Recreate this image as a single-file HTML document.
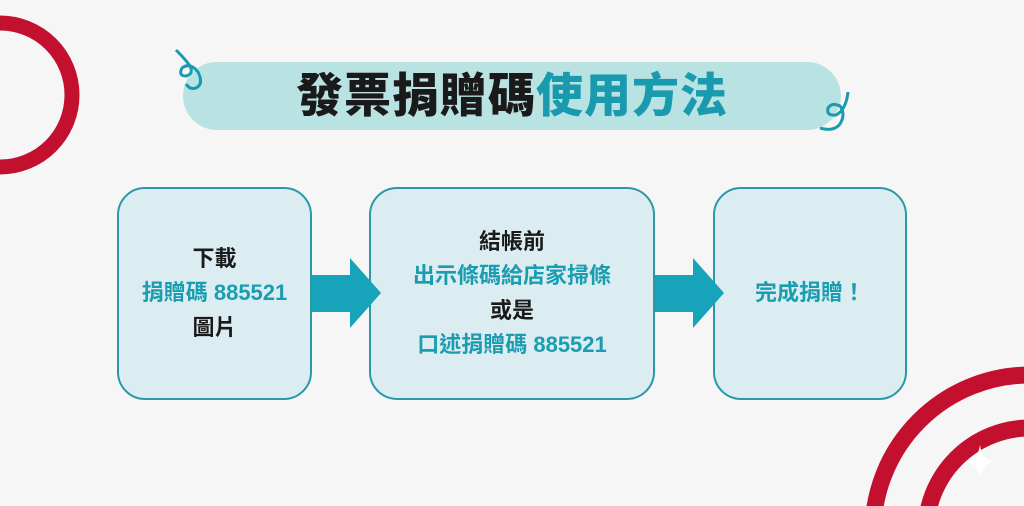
<!DOCTYPE html>
<html><head><meta charset="utf-8"><style>
html,body{margin:0;width:1024px;height:506px;overflow:hidden;}
body{background:#f6f6f6;position:relative;font-family:"Liberation Sans","Noto Sans CJK TC",sans-serif;}
.box{position:absolute;top:187px;height:213px;background:#dcedf2;border:2px solid #2a98a8;border-radius:28px;box-sizing:border-box;display:flex;flex-direction:column;justify-content:center;align-items:center;font-weight:bold;font-size:22px;line-height:34.5px;color:#1a1a1a;text-align:center}
.t{color:#1a9db0}
.title{position:absolute;left:183px;top:62px;width:658px;height:68px;background:#b9e2e2;border-radius:34px;}
.tt{position:absolute;left:183px;top:62px;width:658px;height:68px;line-height:68px;text-align:center;font-weight:900;font-size:47px;color:#1a1a1a;letter-spacing:1px}
</style></head><body>
<svg width="1024" height="506" style="position:absolute;left:0;top:0">
<circle cx="0" cy="95" r="72" fill="none" stroke="#c3102f" stroke-width="15"/>
<circle cx="1030" cy="532" r="157" fill="none" stroke="#c3102f" stroke-width="17"/>
<circle cx="1030" cy="532" r="104" fill="none" stroke="#c3102f" stroke-width="17"/>
<path d="M980 445 Q982 460 995 462 Q982 464 980 478 Q978 464 965 462 Q978 460 980 445Z" fill="#fff"/>
</svg>
<div class="title"></div>
<div class="tt">發票捐贈碼<span style="color:#1a9aae">使用方法</span></div>
<svg width="1024" height="506" style="position:absolute;left:0;top:0">
<path d="M176 50 Q186 60 190 66 Q194 74 186 76 Q178 76 182 68 Q190 62 198 72 Q204 84 196 88 Q190 90 186 84" fill="none" stroke="#1a9aae" stroke-width="3"/>
<path d="M848 92 Q846 110 836 115 Q826 116 828 108 Q832 102 840 106 Q846 114 840 124 Q834 132 820 128" fill="none" stroke="#1a9aae" stroke-width="3"/>
</svg>
<div class="box" style="left:117px;width:195px"><div>下載</div><div class="t">捐贈碼 885521</div><div>圖片</div></div>
<div class="box" style="left:369px;width:286px"><div>結帳前</div><div class="t">出示條碼給店家掃條</div><div>或是</div><div class="t">口述捐贈碼 885521</div></div>
<div class="box" style="left:713px;width:194px"><div class="t">完成捐贈！</div></div>
<svg width="1024" height="506" style="position:absolute;left:0;top:0">
<polygon points="312,275 350,275 350,258 381,293 350,328 350,312 312,312" fill="#17a3b9"/>
<polygon points="655,275 693,275 693,258 724,293 693,328 693,312 655,312" fill="#17a3b9"/>
</svg>
</body></html>
